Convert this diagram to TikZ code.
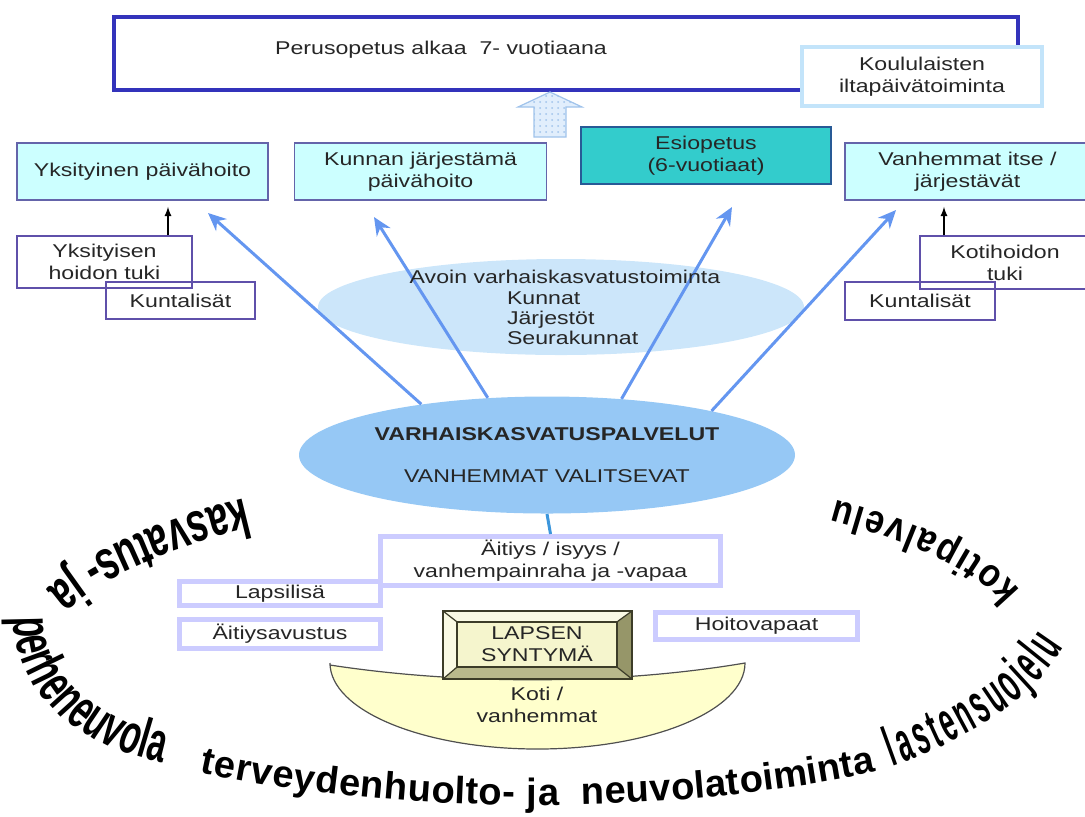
\documentclass[tikz,border=0pt]{standalone}
\usepackage{fontspec}
\setmainfont{Liberation Sans}[FakeStretch=1.25]
\newfontfamily\ringleftfont{Liberation Sans}[FakeStretch=0.66]
\newfontfamily\ringlowfont{Liberation Sans}[FakeStretch=0.6]
\newfontfamily\ringbottomfont{Liberation Sans}
\newfontfamily\ringrightfont{Liberation Sans}[FakeStretch=0.47]
\newfontfamily\ringtopfont{Liberation Sans}[FakeStretch=0.85]
\newcommand\ringA{\ringleftfont\bfseries\fontsize{28}{28}\selectfont}
\newcommand\ringAA{\ringlowfont\bfseries\fontsize{28}{28}\selectfont}
\newcommand\ringB{\ringbottomfont\bfseries\fontsize{19}{19}\selectfont}
\newcommand\ringC{\ringrightfont\bfseries\fontsize{28}{28}\selectfont}
\newcommand\ringD{\ringtopfont\bfseries\fontsize{20}{20}\selectfont}
\usepackage{xcolor}
\usepackage{tikz}
\usetikzlibrary{shapes.geometric, arrows, arrows.meta, positioning, calc, patterns}

\definecolor{perusblue}{RGB}{51,51,187}
\definecolor{koululine}{RGB}{195,228,250}
\definecolor{carefill}{RGB}{204,255,255}
\definecolor{careline}{RGB}{100,100,170}
\definecolor{esifill}{RGB}{51,204,204}
\definecolor{esiline}{RGB}{40,90,150}
\definecolor{tukiline}{RGB}{95,80,170}
\definecolor{avoinfill}{RGB}{204,230,250}
\definecolor{vkfill}{RGB}{150,200,245}
\definecolor{arrowblue}{RGB}{100,150,240}
\definecolor{connblue}{RGB}{60,150,220}
\definecolor{etuline}{RGB}{204,204,255}
\definecolor{kotifill}{RGB}{255,255,204}
\definecolor{kotiline}{RGB}{80,80,80}
\definecolor{bevface}{RGB}{245,245,205}
\definecolor{bevlight}{RGB}{250,250,228}
\definecolor{bevdark}{RGB}{150,150,105}
\definecolor{bevmid}{RGB}{185,185,140}
\definecolor{bevline}{RGB}{60,60,40}
\definecolor{nuolifill}{RGB}{225,238,252}
\definecolor{nuoliline}{RGB}{160,195,235}

% letters on an elliptic arc: font, cx, cy, a, b, start angle, letters, name, extra gap
\newcommand\ringtext[9]{%
  \xdef\ringt{#6}%
  \foreach \ch [count=\i] in {#7} {%
    \pgfmathsetmacro\ringx{#2+#4*cos(\ringt)}%
    \pgfmathsetmacro\ringy{#3+#5*sin(\ringt)}%
    \pgfmathsetmacro\ringrot{atan2(#5*cos(\ringt), -#4*sin(\ringt))}%
    \node[ringletter={#1}, rotate=\ringrot] (#8\i) at (\ringx,\ringy) {\ch};
    \begingroup#1\pgfmathwidth{"\ch"}\xdef\ringw{\pgfmathresult}\endgroup
    \pgfmathsetmacro\ringv{100*veclen(#4*sin(\ringt)/100, #5*cos(\ringt)/100)}%
    \pgfmathsetmacro\ringn{\ringt+(2*\ringw+#9)/\ringv*180/pi}%
    \xdef\ringt{\ringn}%
  }%
}

\begin{document}
\begin{tikzpicture}[x=0.5pt, y=0.5pt,
  every node/.style={font=\fontsize{9.25}{11}\selectfont, text=black!85},
  perusbox/.style={draw=perusblue, line width=2pt, minimum width=452pt,
                   minimum height=36.5pt},
  koulubox/.style={draw=koululine, line width=2pt, fill=white,
                   minimum width=120pt, minimum height=29.5pt, align=center},
  carebox/.style={draw=careline, line width=0.8pt, fill=carefill,
                  minimum height=28.5pt, align=center},
  esibox/.style={carebox, draw=esiline, fill=esifill},
  tukibox/.style={draw=tukiline, line width=0.7pt, align=center},
  etubox/.style={draw=etuline, line width=2.5pt, fill=white,
                 inner sep=1pt, align=center},
  avoinell/.style={ellipse, fill=avoinfill, minimum width=243pt,
                   minimum height=48pt},
  vkell/.style={ellipse, fill=vkfill, minimum width=248pt,
                minimum height=58.5pt, inner sep=0pt, align=center},
  facebox/.style={draw=bevline, line width=0.6pt, fill=bevface,
                  minimum width=80pt, minimum height=22.5pt,
                  inner sep=0pt, align=center},
  bowl/.style={draw=kotiline, line width=0.6pt, fill=kotifill},
  nuoli/.style={draw=nuoliline, line width=0.6pt, fill=nuolifill,
                postaction={pattern=dots, pattern color=nuoliline}},
  barr/.style={-{Stealth[length=9pt, width=8pt]}, line width=1.5pt, arrowblue},
  tarr/.style={->, >=latex, line width=0.6pt, shorten >=3pt},
  conn/.style={line width=1.5pt, connblue},
  ringletter/.style={anchor=base west, inner sep=0pt, outer sep=0pt,
                     text=black, font=#1}
]
\useasboundingbox (0,0) rectangle (1085,-816);

% Perusopetus
\node[perusbox] (perus) at (566,-53.5) {};
\node (perusteksti) at (441,-50) {Perusopetus alkaa\ \ 7- vuotiaana};
\node[koulubox] (koulu) at (922,-76.5) {Koululaisten\\iltapäivätoiminta};
\draw[nuoli] (534,-137) -- (534,-107) -- (518,-107) -- (550,-92)
  -- (582,-107) -- (566,-107) -- (566,-137) -- cycle;

% Care forms
\node[carebox, minimum width=125.5pt] (yksit) at (142.5,-171.5)
  {Yksityinen päivähoito};
\node[carebox, minimum width=126pt, right=12.5pt of yksit] (kunnan)
  {Kunnan järjestämä\\päivähoito};
\node[esibox, minimum width=125pt] (esiop) at (706,-155.5)
  {Esiopetus\\(6-vuotiaat)};
\node[carebox, minimum width=122.5pt] (vanhem) at (967.5,-171.5)
  {Vanhemmat itse /\\järjestävät};

% Support
\node[tukibox, minimum width=87.5pt, minimum height=26pt] (ytuki)
  at (104.5,-262) {Yksityisen\\hoidon tuki};
\node[tukibox, minimum width=74.5pt, minimum height=18.5pt] (kuntaV)
  at (180.5,-300.5) {Kuntalisät};
\node[tukibox, minimum width=85pt, minimum height=26.5pt] (kotituki)
  at (1005,-262.5) {Kotihoidon\\tuki};
\node[tukibox, minimum width=75pt, minimum height=19pt] (kuntaO)
  at (920,-301) {Kuntalisät};
\draw[tarr] ([xshift=31.75pt]ytuki.north)
  -- ([xshift=31.75pt]ytuki.north |- yksit.south);
\draw[tarr] ([xshift=-30.5pt]kotituki.north)
  -- ([xshift=-30.5pt]kotituki.north |- vanhem.south);

% Open activities and services
\node[avoinell] (avoin) at (561,-307) {};
\node[vkell] (vk) at (547,-455)
  {\textbf{VARHAISKASVATUSPALVELUT}\\[10pt]VANHEMMAT VALITSEVAT};
\coordinate (tipYk) at (208,-213);
\coordinate (tipKu) at (374,-217);
\coordinate (tipEs) at (732,-207);
\coordinate (tipVa) at (896,-210);
\draw[barr] (vk.158) -- (tipYk);
\draw[barr] (vk.136) -- (tipKu);
\draw[barr] (vk.37) -- (tipEs);
\draw[barr] (vk.15) -- (tipVa);
\node (avointeksti) at (565,-277) {Avoin varhaiskasvatustoiminta};
\node[align=left, anchor=west, font=\fontsize{9.25}{10}\selectfont]
  (avoinlista) at (500,-318) {Kunnat\\Järjestöt\\Seurakunnat};

% Benefits
\node[etubox, minimum width=170pt, minimum height=24.5pt] (aitiys)
  at (550.5,-561) {Äitiys / isyys /\\vanhempainraha ja -vapaa};
\draw[conn] (vk.south) -- (aitiys.north);
\node[etubox, minimum width=100.5pt, minimum height=12pt] (lapsilisa)
  at (280,-593.5) {Lapsilisä};
\node[etubox, minimum width=100.5pt, minimum height=14.5pt] (aitiysav)
  at (280,-634) {Äitiysavustus};
\node[etubox, minimum width=101pt, minimum height=13.5pt] (hoitov)
  at (756.5,-626) {Hoitovapaat};

% Home
\draw[bowl] (330,-665) .. controls (460,-685) and (615,-685) .. (745,-663)
  arc[start angle=0, end angle=-180, x radius=103.75pt, y radius=43pt]
  -- cycle;
\node[align=center] (koti) at (537,-705) {Koti /\\vanhemmat};
\fill[bevlight] (443,-611) rectangle (632,-679);
\fill[bevdark] (632,-611) -- (632,-679) -- (617,-667) -- (617,-622) -- cycle;
\fill[bevmid] (443,-679) -- (632,-679) -- (617,-667) -- (457,-667) -- cycle;
\node[facebox] (lapsen) at (537,-644.5) {LAPSEN\\SYNTYMÄ};
\draw[bevline, line width=0.6pt] (443,-611) rectangle (632,-679);
\draw[bevline, line width=0.6pt] (443,-611) -- (lapsen.north west)
  (632,-611) -- (lapsen.north east) (632,-679) -- (lapsen.south east)
  (443,-679) -- (lapsen.south west);

% Ring
\ringtext{\ringA}{545}{-655}{530}{190}{124.5}
  {k,a,s,v,a,t,u,s,-,~,j,a}{kas}{1.2}
\ringtext{\ringAA}{200}{-615}{187}{150}{181}
  {p,e,r,h,e,n,e,u,v,o,l,a}{per}{0.5}
\ringtext{\ringB}{535}{-630}{580}{175}{234.7}
  {t,e,r,v,e,y,d,e,n,h,u,o,l,t,o,-,~,j,a,~,~,n,e,u,v,o,l,a,t,o,i,m,i,n,t,a}{ter}{0.5}
\ringtext{\ringC}{545}{-600}{530}{220}{311}
  {l,a,s,t,e,n,s,u,o,j,e,l,u}{las}{4}
\ringtext{\ringD}{545}{-645}{500}{178}{18}
  {k,o,t,i,p,a,l,v,e,l,u}{kot}{2.5}
\end{tikzpicture}
\end{document}
